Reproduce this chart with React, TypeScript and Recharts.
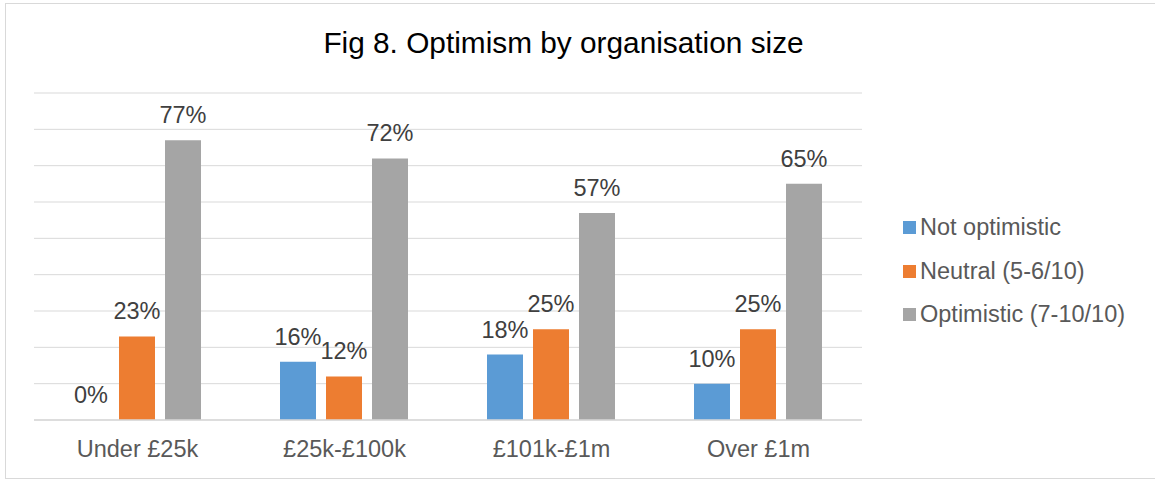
import React from "react";
import { BarChart, Bar, XAxis, YAxis, CartesianGrid, Legend, LabelList } from "recharts";

const categories = ["Under £25k", "£25k-£100k", "£101k-£1m", "Over £1m"];
const notOptimistic = [0, 16, 18, 10];
const neutral = [23, 12, 25, 25];
const optimistic = [77, 72, 57, 65];
const yTicks = [0, 10, 20, 30, 40, 50, 60, 70, 80, 90];

const seriesNames = ["Not optimistic", "Neutral (5-6/10)", "Optimistic (7-10/10)"];
const seriesColors = ["#5B9BD5", "#ED7D31", "#A5A5A5"];

const data = categories.map((c, i) => ({
  category: c,
  notOptimistic: notOptimistic[i],
  neutral: neutral[i],
  optimistic: optimistic[i],
}));

const FONT = "'Liberation Sans', Arial, Helvetica, sans-serif";

const renderLegend = (props: any) => {
  const payload = [...(props.payload || [])].sort(
    (a: any, b: any) => seriesNames.indexOf(a.value) - seriesNames.indexOf(b.value)
  );
  return (
    <ul style={{ listStyle: "none", margin: 0, padding: 0, fontFamily: FONT }}>
      {payload.map((entry: any, i: number) => (
        <li
          key={i}
          style={{ display: "flex", alignItems: "center", height: 43.5, fontSize: 23.5, color: "#595959" }}
        >
          <span style={{ display: "inline-block", width: 13, height: 13, background: entry.color, marginRight: 4 }} />
          <span>{entry.value}</span>
        </li>
      ))}
    </ul>
  );
};

const renderLabel = (props: any) => {
  const { x, y, width, value } = props;
  if (x == null || y == null) return null;
  return (
    <text
      x={Number(x) + Number(width) / 2}
      y={Number(y) - 17}
      textAnchor="middle"
      fill="#404040"
      fontSize={23.5}
      fontFamily={FONT}
    >
      {`${value}%`}
    </text>
  );
};

export default function App() {
  return (
    <div style={{ position: "absolute", left: 0, top: 0, width: 1155, height: 479, background: "#fff", fontFamily: FONT, overflow: "hidden" }}>
      <div
        style={{
          position: "absolute",
          left: 5,
          top: 3,
          width: 1170,
          height: 476,
          boxSizing: "border-box",
          border: "1px solid #d9d9d9",
        }}
      />
      <div
        style={{
          position: "absolute",
          left: 0,
          top: 28.2,
          width: 1127,
          textAlign: "center",
          fontSize: 29.8,
          lineHeight: "29.8px",
          color: "#000",
          fontFamily: FONT,
        }}
      >
        Fig 8. Optimism by organisation size
      </div>
      <div style={{ position: "absolute", left: 0, top: 0 }}>
        <BarChart
          width={1155}
          height={479}
          data={data}
          margin={{ top: 93, right: 293, bottom: 0, left: 34 }}
          barCategoryGap={39}
          barGap={10}
        >
          <CartesianGrid vertical={false} horizontal={true} stroke="#d9d9d9" strokeWidth={1} />
          <YAxis
            domain={[0, 90]}
            ticks={yTicks}
            width={0}
            tick={{ fill: "transparent", fontSize: 1 }}
            axisLine={false}
            tickLine={false}
            interval={0}
          />
          <XAxis
            dataKey="category"
            height={59}
            axisLine={{ stroke: "#d9d9d9", strokeWidth: 1.5 }}
            tickLine={false}
            tickSize={0}
            tickMargin={20}
            tick={{ fill: "#595959", fontSize: 23.5, fontFamily: FONT }}
            interval={0}
          />
          <Legend
            layout="vertical"
            align="center"
            verticalAlign="middle"
            content={renderLegend}
            wrapperStyle={{ left: 903, top: 206, width: 250, height: 131 }}
          />
          <Bar dataKey="notOptimistic" name={seriesNames[0]} fill={seriesColors[0]} minPointSize={0.01} isAnimationActive={false}>
            <LabelList dataKey="notOptimistic" content={renderLabel} />
          </Bar>
          <Bar dataKey="neutral" name={seriesNames[1]} fill={seriesColors[1]} isAnimationActive={false}>
            <LabelList dataKey="neutral" content={renderLabel} />
          </Bar>
          <Bar dataKey="optimistic" name={seriesNames[2]} fill={seriesColors[2]} isAnimationActive={false}>
            <LabelList dataKey="optimistic" content={renderLabel} />
          </Bar>
        </BarChart>
      </div>
    </div>
  );
}
